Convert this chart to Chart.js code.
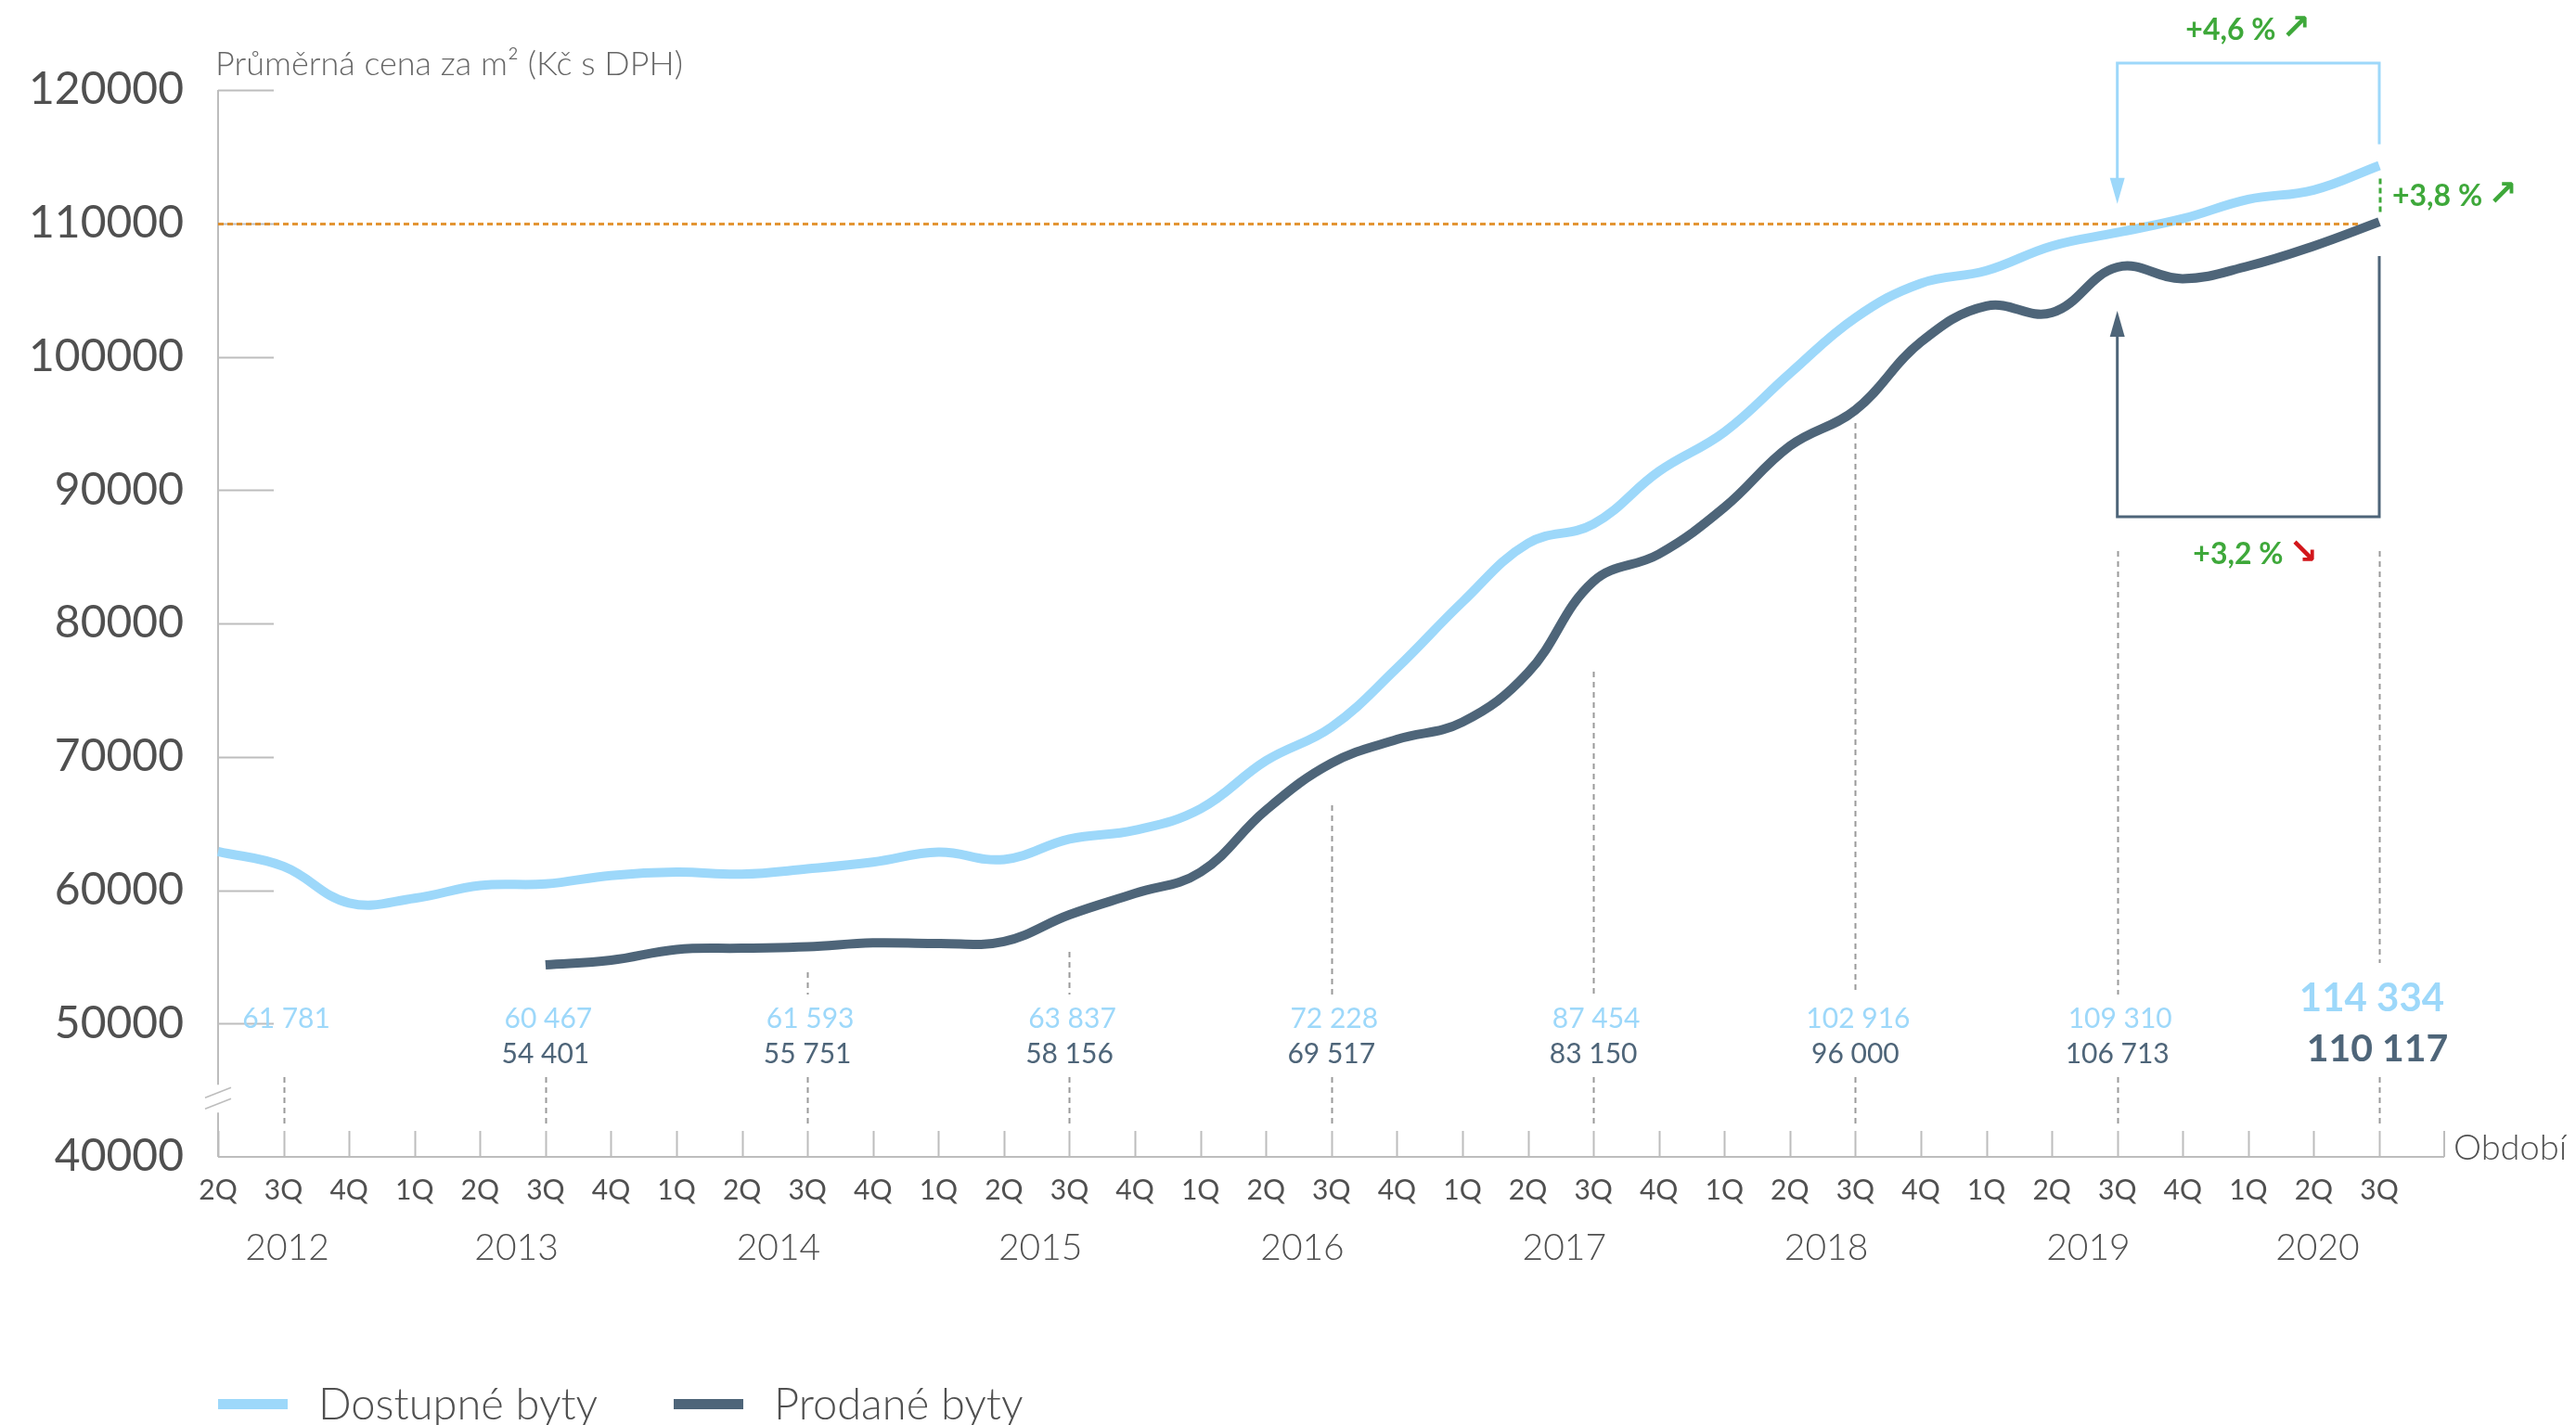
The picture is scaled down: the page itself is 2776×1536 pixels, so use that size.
<!DOCTYPE html>
<html lang="cs">
<head>
<meta charset="utf-8">
<title>Průměrná cena za m²</title>
<script src="https://cdn.jsdelivr.net/npm/chart.js@4.4.1/dist/chart.umd.min.js"></script>
<style>
  html, body { margin: 0; padding: 0; background: #fff; }
  canvas { display: block; }
</style>
</head>
<body>
<canvas id="priceChart" width="2776" height="1536"></canvas>
<script>
// quarters 2Q 2012 .. 3Q 2020
const quarters = [
  '2Q', '3Q', '4Q',
  '1Q', '2Q', '3Q', '4Q',
  '1Q', '2Q', '3Q', '4Q',
  '1Q', '2Q', '3Q', '4Q',
  '1Q', '2Q', '3Q', '4Q',
  '1Q', '2Q', '3Q', '4Q',
  '1Q', '2Q', '3Q', '4Q',
  '1Q', '2Q', '3Q', '4Q',
  '1Q', '2Q', '3Q'
];
const years = ['2012', '2013', '2014', '2015', '2016', '2017', '2018', '2019', '2020'];

// Kč/m² s DPH
const availablePrices = [
  62900, 61781, 59040, 59390,
  60350, 60467, 61100, 61350,
  61200, 61593, 62100, 62850,
  62300, 63837, 64500, 66100,
  69700, 72228, 76650, 81600,
  86000, 87454, 91400, 94350,
  98750, 102916, 105500, 106450,
  108300, 109310, 110350, 111800,
  112500, 114334
];
const soldPrices = [
  null, null, null, null,
  null, 54401, 54750, 55550,
  55650, 55751, 56050, 56000,
  56150, 58156, 59750, 61350,
  66000, 69517, 71300, 72600,
  76300, 83150, 85200, 88700,
  93300, 96000, 101100, 103800,
  103300, 106713, 105850, 106800,
  108300, 110117
];

const yTickValues = [40000, 50000, 60000, 70000, 80000, 90000, 100000, 110000, 120000];
const referenceLevel = 110000;

// every 3Q gets a value label and a dashed guide
const labelIndexes = [1, 5, 9, 13, 17, 21, 25, 29, 33];
// top end of the upper guide segment (px); null = no upper segment
const guideTops = [null, null, 1048, 1026, 868, 724, 456, 594, 594];

const LIGHT = '#9dd8fa';
const DARK = '#4e6579';
const GREEN = '#3ea83a';
const RED = '#d2161b';
const TEXT = '#505050';
const AXIS = '#bdbdbd';
const FONT = '"Lato", "Open Sans", sans-serif';

function fmt(v) {
  return String(Math.round(v)).replace(/\B(?=(\d{3})+(?!\d))/g, ' ');
}
function pct(a, b) {
  return '+' + ((a / b - 1) * 100).toFixed(1).replace('.', ',') + ' %';
}

function yearOfIndex() {
  const out = [];
  let yi = 0;
  quarters.forEach((q, i) => {
    if (q === '1Q' && i > 0) yi++;
    out.push(yi);
  });
  return out;
}

function line(ctx, x1, y1, x2, y2) {
  ctx.beginPath();
  ctx.moveTo(x1, y1);
  ctx.lineTo(x2, y2);
  ctx.stroke();
}

const decorations = {
  id: 'decorations',
  beforeDatasetsDraw(chart) {
    const { ctx, chartArea: ca, scales: { x, y } } = chart;
    ctx.save();
    ctx.strokeStyle = AXIS;
    ctx.lineWidth = 2;

    // y axis with a break near the bottom
    const breakY = y.getPixelForValue(44500);
    line(ctx, ca.left, ca.top, ca.left, breakY - 13);
    line(ctx, ca.left, breakY + 17, ca.left, ca.bottom);
    ctx.lineWidth = 1.5;
    line(ctx, ca.left - 14, breakY + 1, ca.left + 14, breakY - 10);
    line(ctx, ca.left - 14, breakY + 13, ca.left + 14, breakY + 2);
    ctx.lineWidth = 2;

    // short y ticks
    yTickValues.forEach(v => {
      if (v === yTickValues[0]) return;
      const py = Math.round(y.getPixelForValue(v)) + 0.5;
      line(ctx, ca.left, py, ca.left + 60, py);
    });

    // x axis with ticks pointing up
    const axisEnd = ca.right + 70;
    line(ctx, ca.left, ca.bottom, axisEnd, ca.bottom);
    quarters.forEach((q, i) => {
      const px = Math.round(x.getPixelForValue(i)) + 0.5;
      line(ctx, px, ca.bottom, px, ca.bottom - 28);
    });
    line(ctx, axisEnd, ca.bottom, axisEnd, ca.bottom - 28);

    // dashed guides at each 3Q
    ctx.strokeStyle = '#9a9a9a';
    ctx.setLineDash([6, 5]);
    labelIndexes.forEach((idx, k) => {
      const px = Math.round(x.getPixelForValue(idx)) + 0.5;
      line(ctx, px, 1161, px, 1216);
      if (guideTops[k] !== null) {
        const bottom = idx === quarters.length - 1 ? 1038 : 1072;
        line(ctx, px, guideTops[k], px, bottom);
      }
    });
    ctx.restore();
  },

  afterDatasetsDraw(chart) {
    const { ctx, chartArea: ca, scales: { x, y } } = chart;
    const last = quarters.length - 1;
    const prev = last - 4;
    const xl = x.getPixelForValue(prev);
    const xr = x.getPixelForValue(last);
    ctx.save();

    // reference level 110 000
    const ry = Math.round(y.getPixelForValue(referenceLevel)) + 0.5;
    ctx.strokeStyle = 'rgba(224, 138, 30, 0.9)';
    ctx.lineWidth = 3;
    ctx.setLineDash([6, 4]);
    line(ctx, ca.left, ry, xr - 20, ry);

    // title, axis name
    ctx.setLineDash([]);
    ctx.textBaseline = 'middle';
    ctx.textAlign = 'left';
    ctx.fillStyle = '#666';
    ctx.font = '300 36px ' + FONT;
    ctx.fillText('Průměrná cena za m² (Kč s DPH)', ca.left - 3, 69);
    ctx.fillStyle = TEXT;
    ctx.font = '300 38px ' + FONT;
    ctx.fillText('Období', ca.right + 80, ca.bottom - 9);

    // years under the quarter labels
    const yIdx = yearOfIndex();
    ctx.textAlign = 'center';
    ctx.font = '300 39px ' + FONT;
    years.forEach((yr, k) => {
      const px = quarters.map((q, i) => i).filter(i => yIdx[i] === k).map(i => x.getPixelForValue(i));
      const cx = px.reduce((a, b) => a + b, 0) / px.length;
      ctx.fillText(yr, cx + 4, 1345);
    });

    // value labels
    labelIndexes.forEach(idx => {
      const px = x.getPixelForValue(idx);
      const a = availablePrices[idx];
      const s = soldPrices[idx];
      if (idx === last) {
        ctx.font = 'bold 42px ' + FONT;
        ctx.fillStyle = LIGHT;
        ctx.fillText(fmt(a), px - 8, 1076);
        ctx.font = 'bold 41px ' + FONT;
        ctx.fillStyle = DARK;
        ctx.fillText(fmt(s), px - 2, 1131);
        return;
      }
      ctx.font = '400 30px ' + FONT;
      ctx.fillStyle = LIGHT;
      ctx.fillText(fmt(a), px + 3, 1098);
      if (s !== null) {
        ctx.fillStyle = DARK;
        ctx.fillText(fmt(s), px, 1136);
      }
    });

    // bracket: available flats, year over year
    ctx.lineWidth = 3;
    ctx.strokeStyle = LIGHT;
    ctx.fillStyle = LIGHT;
    const topY = 68;
    const tipA = y.getPixelForValue(availablePrices[prev]) - 31;
    ctx.beginPath();
    ctx.moveTo(xl, tipA - 26);
    ctx.lineTo(xl, topY);
    ctx.lineTo(xr, topY);
    ctx.lineTo(xr, y.getPixelForValue(availablePrices[last]) - 23);
    ctx.stroke();
    ctx.beginPath();
    ctx.moveTo(xl - 8, tipA - 28);
    ctx.lineTo(xl + 8, tipA - 28);
    ctx.lineTo(xl, tipA);
    ctx.closePath();
    ctx.fill();

    // bracket: sold flats, year over year
    ctx.strokeStyle = DARK;
    ctx.fillStyle = DARK;
    const botY = 557;
    const tipS = y.getPixelForValue(soldPrices[prev]) + 47;
    ctx.beginPath();
    ctx.moveTo(xl, tipS + 26);
    ctx.lineTo(xl, botY);
    ctx.lineTo(xr, botY);
    ctx.lineTo(xr, y.getPixelForValue(soldPrices[last]) + 37);
    ctx.stroke();
    ctx.beginPath();
    ctx.moveTo(xl - 8, tipS + 28);
    ctx.lineTo(xl + 8, tipS + 28);
    ctx.lineTo(xl, tipS);
    ctx.closePath();
    ctx.fill();

    // gap between the two series in the last quarter
    const ya = y.getPixelForValue(availablePrices[last]);
    const ys = y.getPixelForValue(soldPrices[last]);
    ctx.strokeStyle = GREEN;
    ctx.setLineDash([6, 4]);
    line(ctx, xr + 1, ya + 14, xr + 1, ys - 10);
    ctx.setLineDash([]);

    // percent changes with arrows
    const arrowFont = 'bold 38px "DejaVu Sans", sans-serif';
    function change(text, cx, cy, arrow, arrowColor, align) {
      ctx.font = 'bold 32px ' + FONT;
      const w = ctx.measureText(text).width;
      ctx.font = arrowFont;
      const aw = ctx.measureText(arrow).width;
      const total = w + 6 + aw;
      const x0 = align === 'left' ? cx : cx - total / 2;
      ctx.textAlign = 'left';
      ctx.font = 'bold 32px ' + FONT;
      ctx.fillStyle = GREEN;
      ctx.fillText(text, x0, cy);
      ctx.font = arrowFont;
      ctx.fillStyle = arrowColor;
      ctx.fillText(arrow, x0 + w + 6, cy - 1);
    }
    change(pct(availablePrices[last], availablePrices[prev]), (xl + xr) / 2, 33, '↗', GREEN, 'center');
    change(pct(availablePrices[last], soldPrices[last]), xr + 14, 212, '↗', GREEN, 'left');
    change(pct(soldPrices[last], soldPrices[prev]), (xl + xr) / 2 + 8, 598, '↘', RED, 'center');

    // legend
    ctx.textBaseline = 'middle';
    ctx.font = '300 47px ' + FONT;
    const legendX = [ca.left, 726];
    chart.data.datasets.forEach((ds, i) => {
      const lx = legendX[i];
      ctx.fillStyle = ds.borderColor;
      ctx.fillRect(lx, 1508, 75, 11);
      ctx.fillStyle = TEXT;
      ctx.fillText(ds.label, lx + 108, 1515);
    });
    ctx.restore();
  }
};

new Chart(document.getElementById('priceChart').getContext('2d'), {
  type: 'line',
  data: {
    labels: quarters,
    datasets: [{
      label: 'Dostupné byty',
      data: availablePrices,
      borderColor: LIGHT,
      backgroundColor: LIGHT,
      borderWidth: 10,
      pointRadius: 0,
      tension: 0.4,
      fill: false
    }, {
      label: 'Prodané byty',
      data: soldPrices,
      borderColor: DARK,
      backgroundColor: DARK,
      borderWidth: 10,
      pointRadius: 0,
      tension: 0.4,
      fill: false
    }]
  },
  options: {
    responsive: false,
    animation: false,
    devicePixelRatio: 1,
    layout: { padding: { top: 97, right: 212, bottom: 0, left: 0 } },
    plugins: {
      legend: { display: false },
      tooltip: { enabled: false }
    },
    scales: {
      x: {
        offset: false,
        grid: { display: false, drawTicks: false },
        border: { display: false },
        ticks: {
          autoSkip: false,
          maxRotation: 0,
          padding: 18,
          color: TEXT,
          font: { family: FONT, size: 30, weight: '400' }
        },
        afterFit: s => { s.height = 289; }
      },
      y: {
        min: 40000,
        max: 120000,
        grid: { display: false, drawTicks: false },
        border: { display: false },
        afterBuildTicks: s => { s.ticks = yTickValues.map(v => ({ value: v })); },
        ticks: {
          padding: 37,
          color: TEXT,
          font: { family: FONT, size: 48, weight: '400' },
          callback: v => String(v)
        },
        afterFit: s => { s.width = 235; }
      }
    }
  },
  plugins: [decorations]
});
</script>
</body>
</html>
